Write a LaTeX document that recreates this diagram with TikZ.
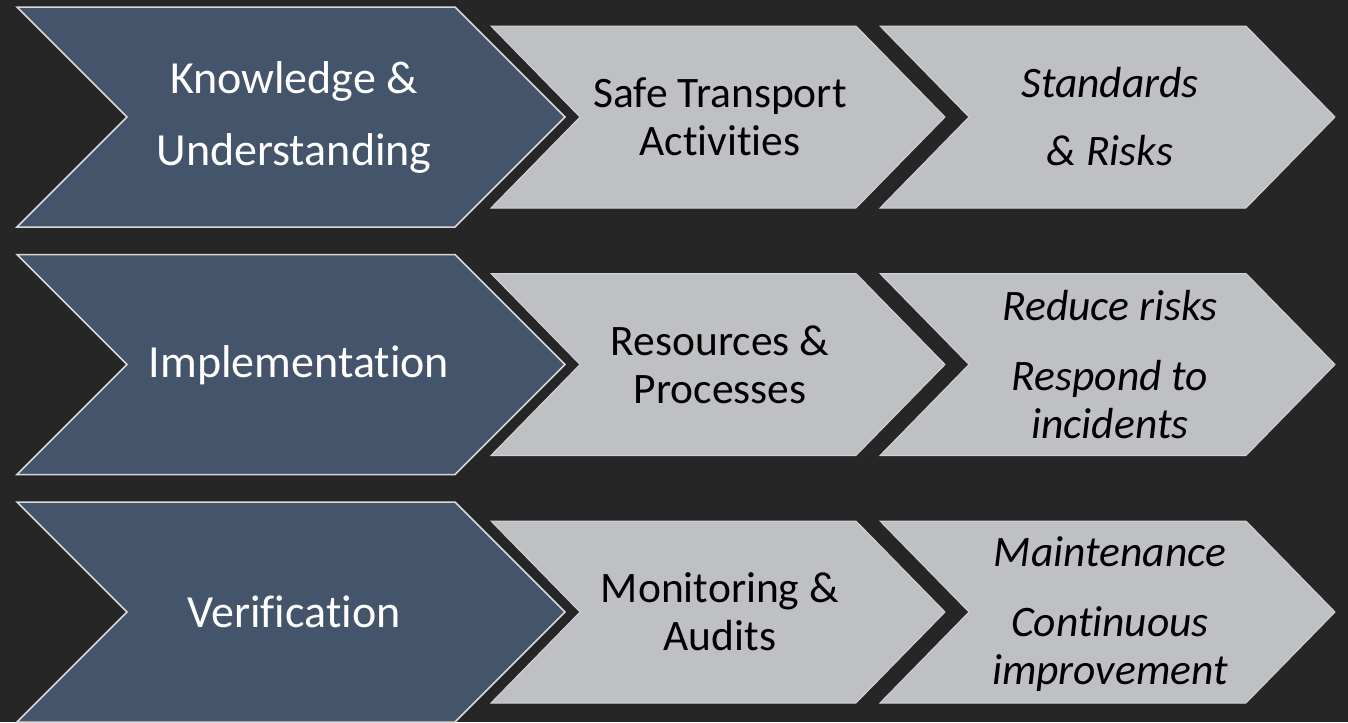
\documentclass[tikz,border=0pt]{standalone}
\usepackage{fontspec}
\setmainfont{Carlito}[Ligatures=NoCommon]
\definecolor{bg}{HTML}{262626}
\definecolor{slate}{HTML}{44546A}
\definecolor{slateline}{HTML}{D9D9D9}
\definecolor{silver}{HTML}{BFC0C4}
\definecolor{silverline}{HTML}{D2D3D6}
% chevron: left x, centre y, body width, half height, point depth
\newcommand{\chevron}[5]{(#1,#2-#4) -- ++(#3,0) -- ++(#5,#4) -- ++(-#5,#4) -- ++(-#3,0) -- ++(#5,-#4) -- cycle}
\begin{document}
\begin{tikzpicture}[x=1pt,y=-1pt,
    lead/.style={fill=slate,draw=slateline,line width=1.5pt,line join=miter},
    stage/.style={fill=silver,draw=silverline,line width=1pt,line join=miter},
    headtxt/.style={text=white,align=center,font=\fontsize{46}{72}\selectfont},
    bodytxt/.style={text=black,align=center,font=\fontsize{43.5}{48}\selectfont}]
    \fill[bg] (0,0) rectangle (1348,722);
    \foreach \r in {0,1,2}{
        \pgfmathsetmacro\cy{117+247.5*\r}
        \draw[lead] \chevron{17}{\cy}{438}{110}{110};
        \draw[stage] \chevron{491}{\cy}{365}{91}{89};
        \draw[stage] \chevron{880}{\cy}{366}{91}{89};
    }
    % first row
    \node[headtxt] (know) at (294,117) {Knowledge \&\\Understanding};
    \node[bodytxt] (safe) at (720,117) {Safe Transport\\Activities};
    \node[bodytxt,font=\fontsize{43.5}{48}\selectfont\itshape] (std) at (1110,117) {Standards\\[20pt]\& Risks};
    % second row
    \node[headtxt] (impl) at (299,365) {Implementation};
    \node[bodytxt] (res) at (720,365) {Resources \&\\Processes};
    \node[bodytxt,font=\fontsize{43.5}{48}\selectfont\itshape] (risk) at (1110,365) {Reduce risks\\[22pt]Respond to\\incidents};
    % third row
    \node[headtxt] (verif) at (294,612) {Verification};
    \node[bodytxt] (mon) at (720,612) {Monitoring \&\\Audits};
    \node[bodytxt,font=\fontsize{43.5}{48}\selectfont\itshape] (maint) at (1110,614) {Maintenance\\[22pt]Continuous\\improvement};
\end{tikzpicture}
\end{document}
